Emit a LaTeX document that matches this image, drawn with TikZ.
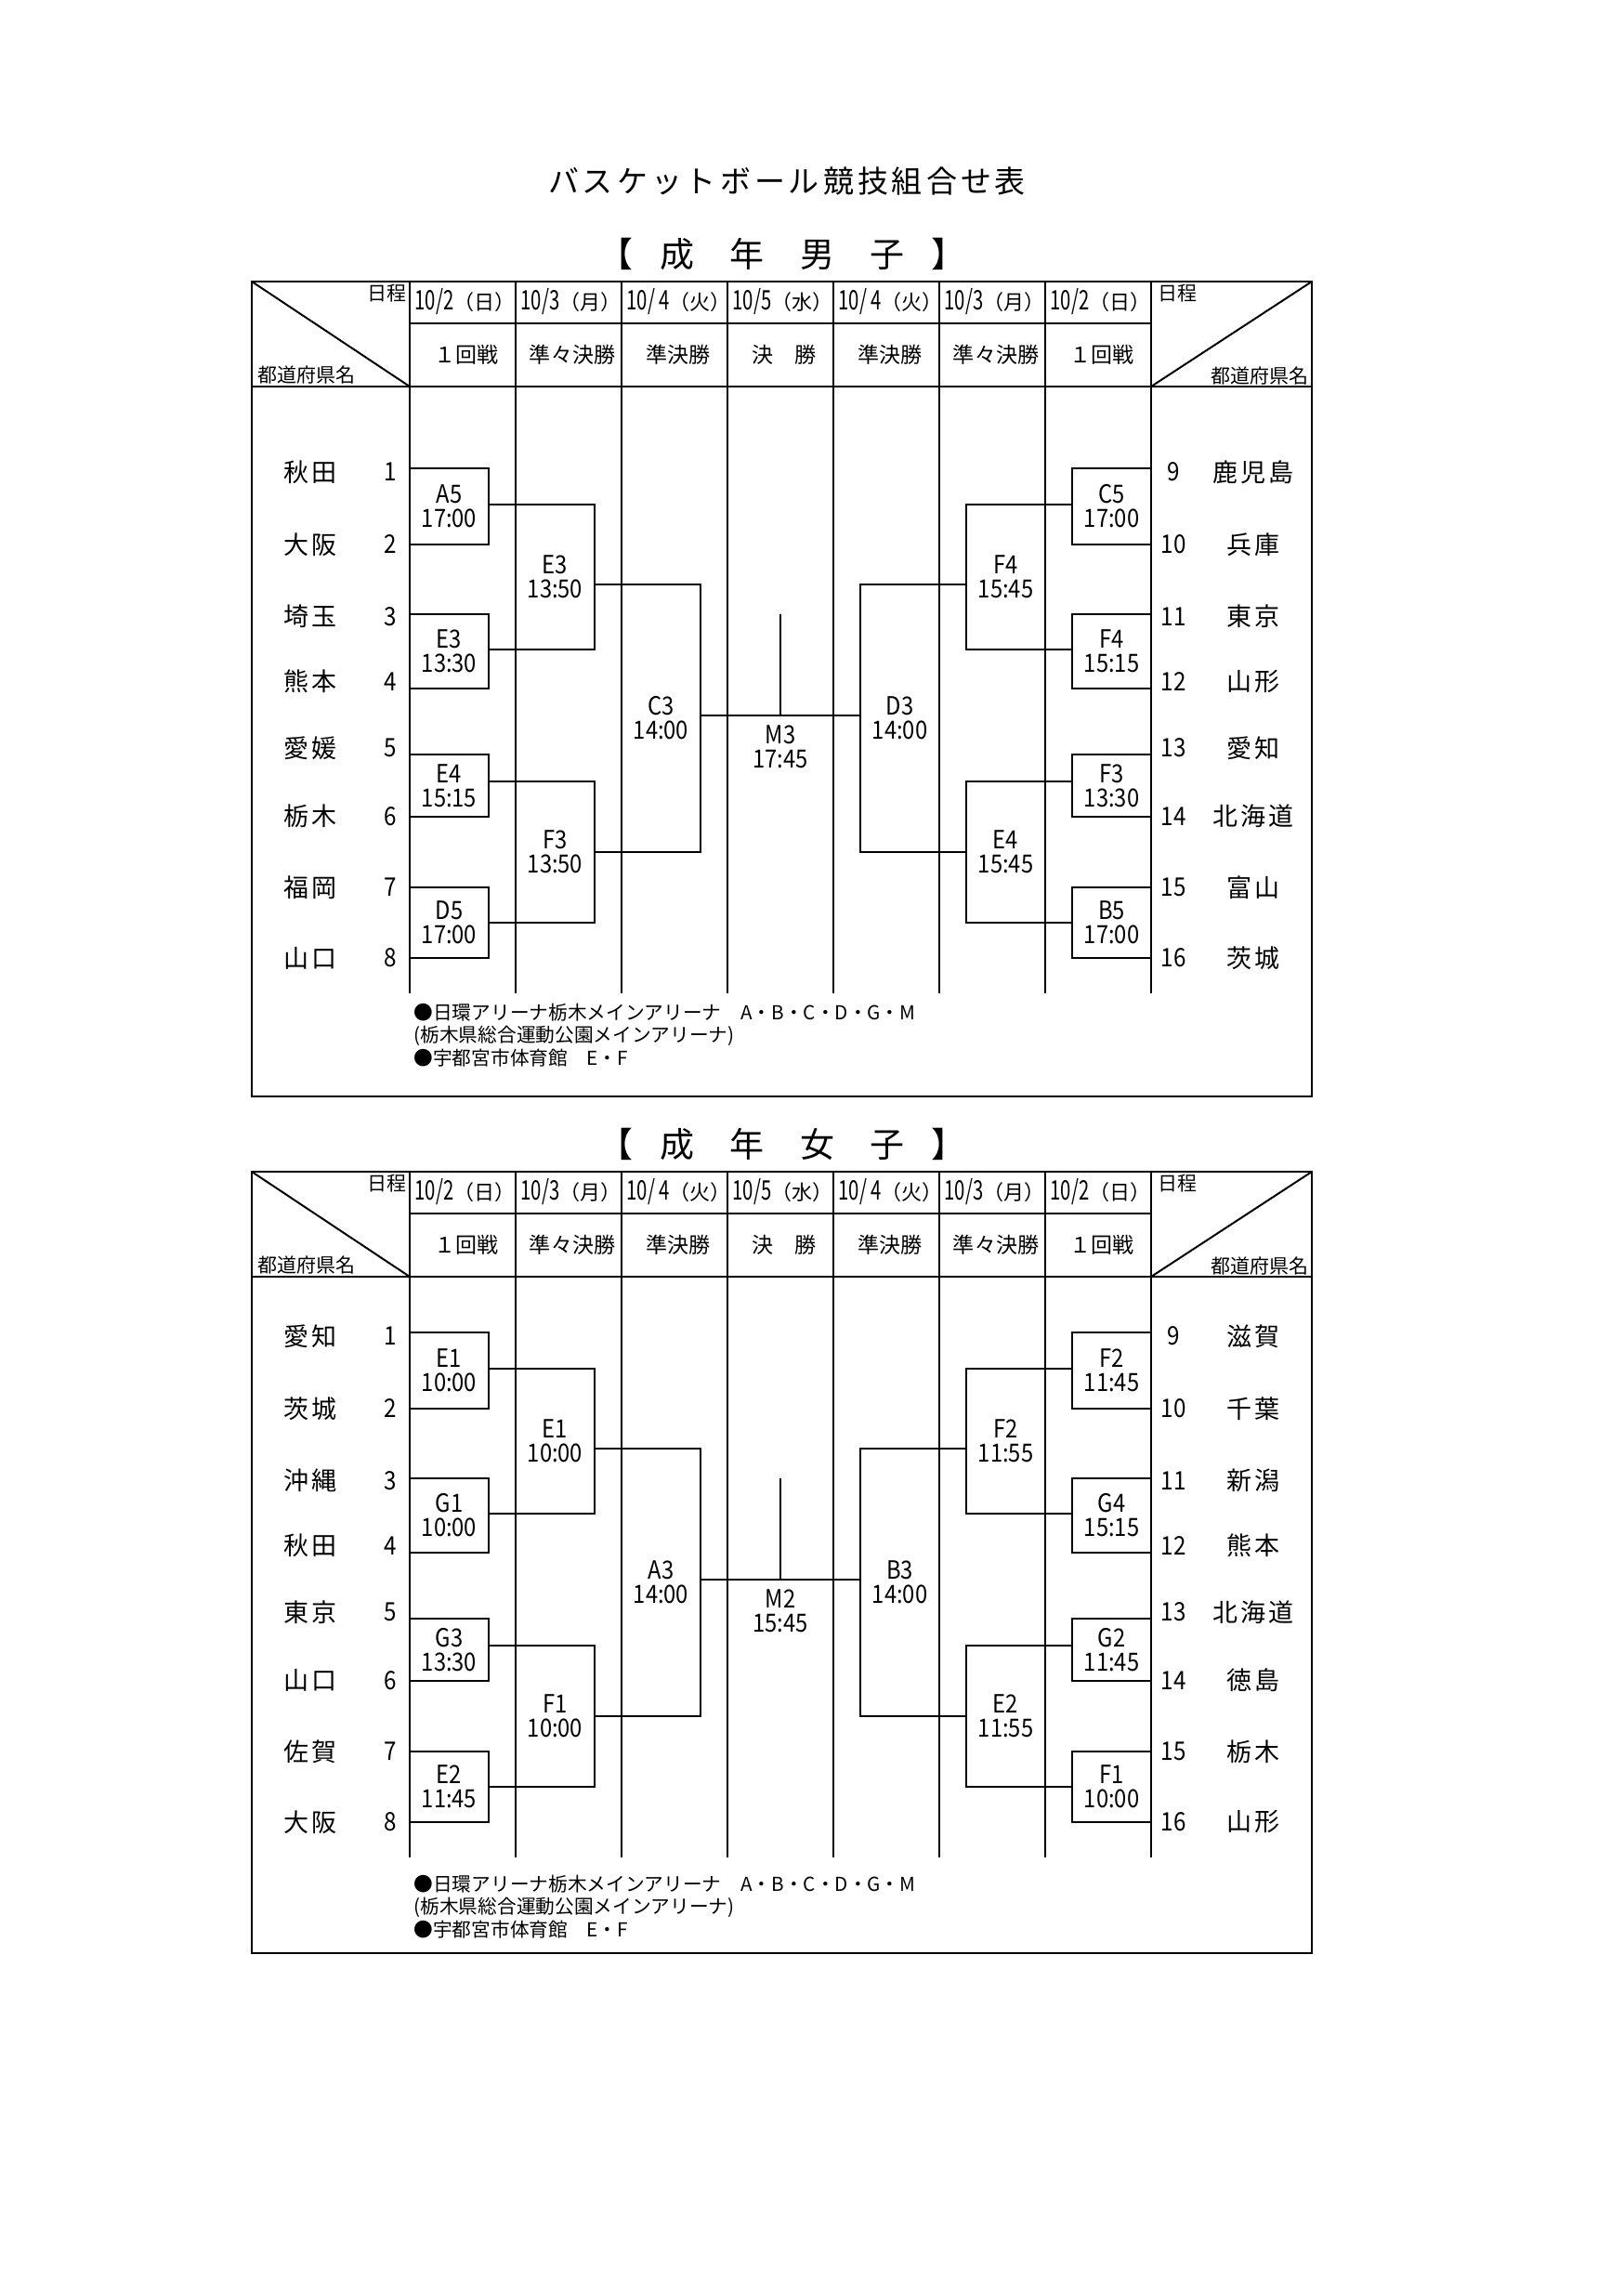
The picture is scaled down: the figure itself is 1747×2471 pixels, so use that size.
\documentclass[tikz,border=0pt]{standalone}
\usepackage{fontspec}
\setmainfont{Noto Sans CJK JP}
\newfontfamily\nar[FakeStretch=0.88]{Noto Sans CJK JP}
\newfontfamily\narr[FakeStretch=0.7]{Noto Sans CJK JP}
\newlength\px
\setlength\px{0.34075pt}
\ExplSyntaxOn
\NewDocumentCommand\spc{mm}{
  \tl_set:Nx \l_tmpa_tl {#2}
  \tl_map_inline:Nn \l_tmpa_tl {\makebox[#1\px][c]{##1}}
}
\ExplSyntaxOff
\newcommand\dd[2]{{\narr\fontsize{9.88pt}{12pt}\selectfont #1}（#2）}
\newcommand\cattitle[1]{\makebox[56\px][c]{【}\spc{75.5}{#1}\makebox[56\px][c]{】}}
\tikzset{
  frame/.style={line width=1.0pt},
  grid/.style={line width=0.68pt},
  thin/.style={line width=0.4pt},
  brk/.style={line width=0.75pt},
  lbl/.style={font=\nar\fontsize{9.2pt}{8.86pt}\selectfont, align=center, inner sep=0pt},
  team/.style={font=\fontsize{9.2pt}{11pt}\selectfont, inner sep=0pt},
  num/.style={font=\nar\fontsize{9.37pt}{11pt}\selectfont, inner sep=0pt},
  hd/.style={font=\fontsize{7.16pt}{9pt}\selectfont, inner sep=0pt},
  date/.style={font=\fontsize{7.5pt}{9pt}\selectfont, inner sep=0pt},
  rnd/.style={font=\fontsize{7.84pt}{9pt}\selectfont, inner sep=0pt},
  note/.style={font=\fontsize{7.05pt}{9pt}\selectfont, inner sep=0pt},
  ttl/.style={font=\fontsize{11.24pt}{13pt}\selectfont, inner sep=0pt},
  cat/.style={font=\fontsize{12.6pt}{15pt}\selectfont, inner sep=0pt}
}
\def\lx{{483.5,483.5,483.5,483.5,597.5,597.5,711.5,840,968.5,1082.5,1082.5,1196.5,1196.5,1196.5,1196.5}}
\def\ly{{545,701,845.5,993,621,917,773,804,773,621,917,545,701,845.5,993}}
\def\tyy{{508,586,663.5,733.5,805,878.5,955,1031}}
% #1 header offset, #2 body offset, #3 prefix, #4 labels, #5 left teams, #6 right teams, #7 first note y, #8 frame bottom
\newcommand\drawpart[8]{%
  \draw[frame] (271,303+#1) rectangle (1412,#8);
  \draw[grid] (271,416+#1) -- (1412,416+#1);
  \draw[grid] (441,348+#1) -- (1239,348+#1);
  \draw[grid] (271,303+#1) -- (441,416+#1);
  \draw[grid] (1239,416+#1) -- (1412,303+#1);
  \foreach \x in {441,555,669,783,897,1011,1125,1239} {
    \draw[grid] (\x,303+#1) -- (\x,416+#1);
    \draw[thin] (\x,416+#1) -- (\x,1069+#2);
  }
  \node[hd, anchor=east] (#3H1) at (438,316+#1) {日程};
  \node[hd, anchor=west] (#3H2) at (277,404+#1) {都道府県名};
  \node[hd, anchor=west] (#3H3) at (1246,316+#1) {日程};
  \node[hd, anchor=east] (#3H4) at (1409,405+#1) {都道府県名};
  \foreach \d [count=\i] in {{\dd{10/2}{日}},{\dd{10/3}{月}},{\dd{10/ 4}{火}},{\dd{10/5}{水}},{\dd{10/ 4}{火}},{\dd{10/3}{月}},{\dd{10/2}{日}}}
    \node[date, anchor=west] (#3D\i) at ({441+114*(\i-1)+5},325+#1) {\d};
  \foreach \r [count=\i] in {１回戦,準々決勝,準決勝,決　勝,準決勝,準々決勝,１回戦}
    \node[rnd] (#3K\i) at ({498+114*(\i-1)+4},382+#1) {\r};
  % brackets
  \foreach \xa/\xb/\ya/\yb in {441/526/504/586, 441/526/661/741, 441/526/812/879, 441/526/955/1031, 526/640/543/699, 526/640/841/993, 640/754/629/917} {
    \draw[brk] (\xa,\ya+#2) -- (\xb,\ya+#2) -- (\xb,\yb+#2) -- (\xa,\yb+#2);
    \draw[brk] ({1680-\xa},\ya+#2) -- ({1680-\xb},\ya+#2) -- ({1680-\xb},\yb+#2) -- ({1680-\xa},\yb+#2);
  }
  \draw[brk] (754,770+#2) -- (926,770+#2);
  \draw[brk] (840,661+#2) -- (840,770+#2);
  \foreach \a/\b [count=\i] in {#4} {
    \pgfmathsetmacro\xx{\lx[\i-1]}
    \pgfmathsetmacro\yy{\ly[\i-1]+#2}
    \node[lbl] (#3B\i) at (\xx,\yy) {\a\\\b};
  }
  \foreach \nm [count=\i] in {#5} {
    \pgfmathsetmacro\yy{\tyy[\i-1]+#2}
    \node[team] (#3T\i) at (334,\yy) {\spc{30}{\nm}};
    \node[num] (#3N\i) at (420,\yy) {\i};
  }
  \foreach \nm [count=\i] in {#6} {
    \pgfmathsetmacro\yy{\tyy[\i-1]+#2}
    \pgfmathtruncatemacro\k{\i+8}
    \node[num] (#3N\k) at (1263,\yy) {\k};
    \node[team] (#3T\k) at (1349,\yy) {\spc{30}{\nm}};
  }
  \node[note, anchor=west] (#3X1) at (445,#7) {●日環アリーナ栃木メインアリーナ　A・B・C・D・G・M};
  \node[note, anchor=west] (#3X2) at (445,#7+24.5) {(栃木県総合運動公園メインアリーナ)};
  \node[note, anchor=west] (#3X3) at (445,#7+49) {●宇都宮市体育館　E・F};
}
\begin{document}
\begin{tikzpicture}[x=0.34075pt, y=-0.34075pt]
  \path[fill=white, use as bounding box] (0,0) rectangle (1747,2471);
  \node[ttl] (title) at (847,195) {\spc{37}{バスケットボール競技組合せ表}};
  \node[cat] (mcat) at (842,273) {\cattitle{成年男子}};
  \node[cat] (wcat) at (842,1231) {\cattitle{成年女子}};
  \drawpart{0}{0}{m}%
    {A5/17:00, E3/13:30, E4/15:15, D5/17:00, E3/13:50, F3/13:50, C3/14:00, M3/17:45, D3/14:00, F4/15:45, E4/15:45, C5/17:00, F4/15:15, F3/13:30, B5/17:00}%
    {秋田,大阪,埼玉,熊本,愛媛,栃木,福岡,山口}%
    {鹿児島,兵庫,東京,山形,愛知,北海道,富山,茨城}%
    {1090}{1180}
  \drawpart{958}{930}{w}%
    {E1/10:00, G1/10:00, G3/13:30, E2/11:45, E1/10:00, F1/10:00, A3/14:00, M2/15:45, B3/14:00, F2/11:55, E2/11:55, F2/11:45, G4/15:15, G2/11:45, F1/10:00}%
    {愛知,茨城,沖縄,秋田,東京,山口,佐賀,大阪}%
    {滋賀,千葉,新潟,熊本,北海道,徳島,栃木,山形}%
    {2028}{2102}
\end{tikzpicture}
\end{document}
